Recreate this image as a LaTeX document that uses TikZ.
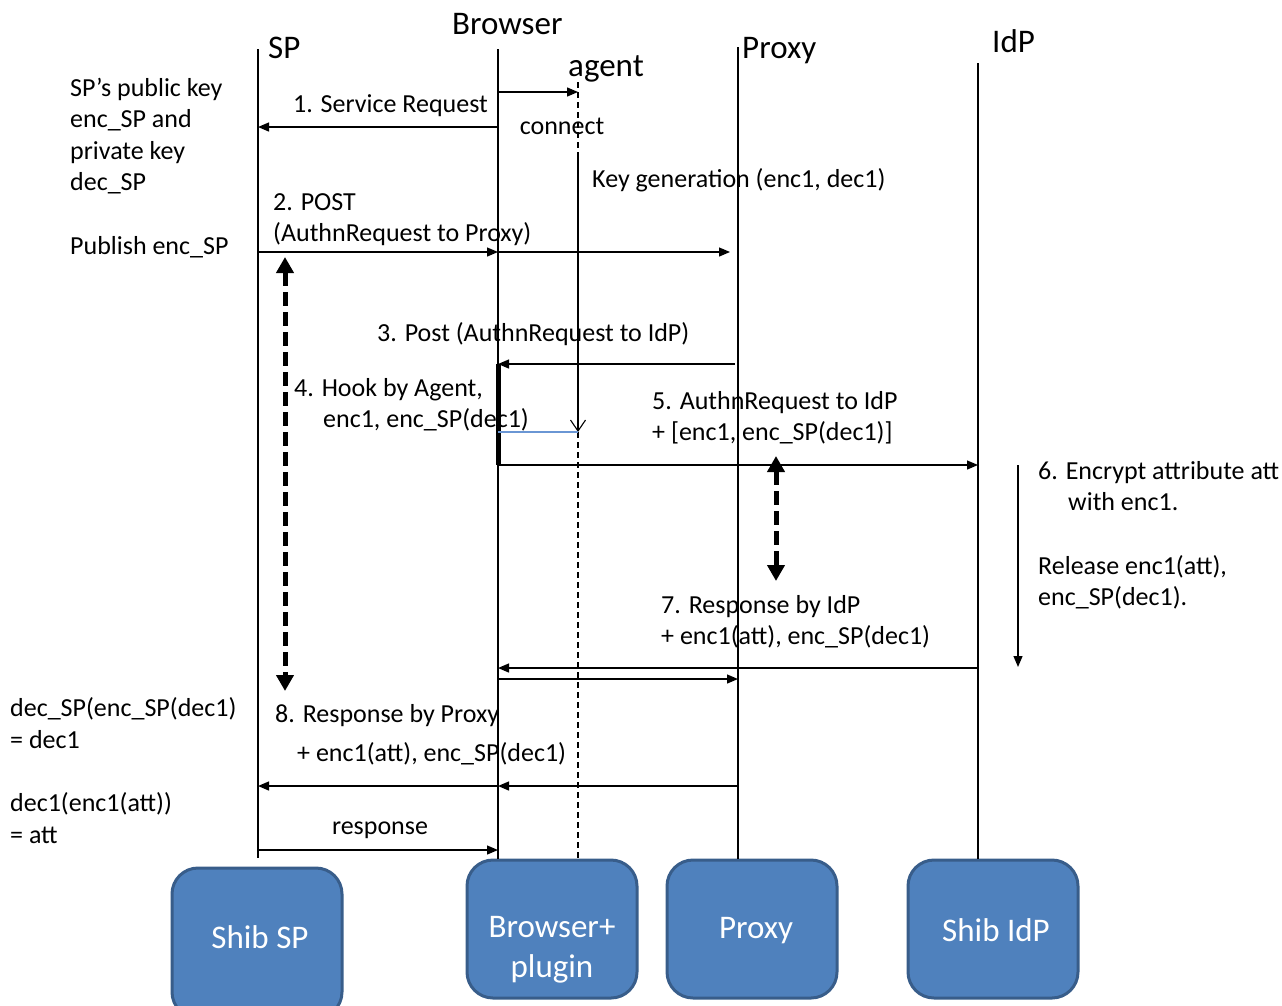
\documentclass[tikz,border=0pt]{standalone}
\usepackage{fontspec}
\setmainfont{Carlito}
\usetikzlibrary{arrows.meta,calc}
\definecolor{boxfill}{HTML}{4F81BD}
\definecolor{boxline}{HTML}{385D8A}
\definecolor{hookblue}{HTML}{6A96D4}
\tikzset{
  txt/.style={inner sep=0pt,font=\fontsize{26}{31.7}\selectfont},
  hdr/.style={inner sep=0pt,font=\fontsize{33}{40}\selectfont},
  life/.style={line width=1.3pt},
  agentline/.style={line width=1.1pt,dash pattern=on 6pt off 4pt},
  msg/.style={line width=1.3pt,-{Triangle[length=11pt,width=9pt]}},
  bigdash/.style={line width=5pt,dash pattern=on 14pt off 6pt,
    {Triangle[length=16pt,width=17pt]}-{Triangle[length=16pt,width=17pt]}},
  actor/.style={draw=boxline,fill=boxfill,line width=3pt,rounded corners=26pt,
    minimum width=170pt,minimum height=138pt},
  actortext/.style={inner sep=0pt,text=white,align=center,
    font=\fontsize{33}{40}\selectfont}
}
\begin{document}
\begin{tikzpicture}[x=1pt,y=-1pt]
\useasboundingbox (0,0) rectangle (1282,1005);
% lifeline x positions
\coordinate (SP) at (258,0);
\coordinate (BR) at (498,0);
\coordinate (AG) at (578,0);
\coordinate (PX) at (738,0);
\coordinate (ID) at (978,0);
\coordinate (EN) at (1018,0);
% actor boxes
\node[actor,minimum height=150pt] (bsp) at (257,943) {};
\node[actor] (bbr) at (552,929) {};
\node[actor] (bpx) at (752,929) {};
\node[actor] (bid) at (993,929) {};
\node[actortext] (tsp) at (260,937) {Shib SP};
\node[actortext] (tbr) at (552,950) {Browser+\\plugin};
\node[actortext] (tpx) at (756,931) {Proxy};
\node[actortext] (tid) at (996,930) {Shib IdP};
% lifeline ends
\coordinate (SPt) at (258,49);  \coordinate (SPb) at (258,858);
\coordinate (BRt) at (498,49);
\coordinate (PXt) at (738,47);
\coordinate (IDt) at (978,63);
\coordinate (AGt) at (578,82);  \coordinate (AGb) at (578,860);
\draw[life] (SPt) -- (SPb);
\draw[life] (BRt) -- (BRt|-bbr.north);
\draw[life] (PXt) -- (PXt|-bpx.north);
\draw[life] (IDt) -- (IDt|-bid.north);
% headers
\node[hdr,anchor=base west] (hsp) at (268,58) {SP};
\node[hdr,anchor=base west] (hbr) at (452,34) {Browser};
\node[hdr,anchor=base west] (hag) at (568,76) {agent};
\node[hdr,anchor=base west] (hpx) at (742,58) {Proxy};
\node[hdr,anchor=base west] (hid) at (992,52) {IdP};
% rows
\coordinate (r1) at (0,92);
\coordinate (r2) at (0,127);
\coordinate (rk1) at (0,152);
\coordinate (rk2) at (0,432);
\coordinate (r3) at (0,252);
\coordinate (r4) at (0,364);
\coordinate (r5) at (0,465);
\coordinate (r6) at (0,667);
\coordinate (r7) at (0,668);
\coordinate (r7b) at (0,679);
\coordinate (r8) at (0,786);
\coordinate (r9) at (0,850);
% agent line
\draw[agentline] (AGt) -- (AG|-rk1);
\draw[line width=1.1pt,-{Straight Barb[length=11pt,width=15pt]}] (AG|-rk1) -- (AG|-rk2);
\draw[agentline] (AG|-rk2) -- (AGb);
% 1
\draw[msg] (BR|-r1) -- (AG|-r1);
\draw[msg] (BR|-r2) -- (SP|-r2);
% 2
\coordinate (PXa) at (730,0);
\draw[msg] (SP|-r3) -- (BR|-r3);
\draw[msg] (BR|-r3) -- (PXa|-r3);
\coordinate (d1t) at (285,257);
\coordinate (d1b) at (285,691);
\draw[bigdash] (d1t) -- (d1b);
% 3
\coordinate (PXb) at (735,0);
\draw[msg] (PXb|-r4) -- (BR|-r4);
\draw[line width=5pt] (BR|-r4) -- (BR|-r5);
% 4 hook
\draw[hookblue,line width=1.3pt] (BR|-rk2) -- (AG|-rk2);
% 5
\draw[msg] (BR|-r5) -- (ID|-r5);
\coordinate (d2t) at (776,456);
\coordinate (d2b) at (776,581);
\draw[bigdash] (d2t) -- (d2b);
% 6
\draw[msg] (EN|-r5) -- (EN|-r6);
% 7
\draw[msg] (ID|-r7) -- (BR|-r7);
\draw[msg] (BR|-r7b) -- (PX|-r7b);
% 8
\draw[msg] (PX|-r8) -- (BR|-r8);
\draw[msg] (BR|-r8) -- (SP|-r8);
% response
\draw[msg] (SP|-r9) -- (BR|-r9);
% texts
\node[txt,anchor=base west] (t1) at (70,96) {SP’s public key};
\node[txt,anchor=base west] (t2) at (70,127) {enc\_SP and};
\node[txt,anchor=base west] (t3) at (70,159) {private key};
\node[txt,anchor=base west] (t4) at (70,190) {dec\_SP};
\node[txt,anchor=base west] (t5) at (70,254) {Publish enc\_SP};
\node[txt,anchor=base east] (l1) at (488,112) {1. Service Request};
\node[txt,anchor=base] (lc) at (562,134) {connect};
\node[txt,anchor=base west] (lk) at (592,187) {Key generation (enc1, dec1)};
\node[txt,anchor=base west] (l2a) at (273,210) {2. POST};
\node[txt,anchor=base west] (l2b) at (273,241) {(AuthnRequest to Proxy)};
\node[txt,anchor=base west] (l3) at (377,341) {3. Post (AuthnRequest to IdP)};
\node[txt,anchor=base west] (l4a) at (294,396) {4. Hook by Agent,};
\node[txt,anchor=base west] (l4b) at (323,427) {enc1, enc\_SP(dec1)};
\node[txt,anchor=base west] (l5a) at (652,409) {5. AuthnRequest to IdP};
\node[txt,anchor=base west] (l5b) at (652,440) {+ [enc1, enc\_SP(dec1)]};
\node[txt,anchor=base west] (l6a) at (1038,479) {6. Encrypt attribute att};
\node[txt,anchor=base west] (l6b) at (1068,510) {with enc1.};
\node[txt,anchor=base west] (l6c) at (1038,574) {Release enc1(att),};
\node[txt,anchor=base west] (l6d) at (1038,605) {enc\_SP(dec1).};
\node[txt,anchor=base west] (l7a) at (661,613) {7. Response by IdP};
\node[txt,anchor=base west] (l7b) at (661,644) {+ enc1(att), enc\_SP(dec1)};
\node[txt,anchor=base west] (l8a) at (275,722) {8. Response by Proxy};
\node[txt,anchor=base west] (l8b) at (297,761) {+ enc1(att), enc\_SP(dec1)};
\node[txt,anchor=base west] (u1) at (10,716) {dec\_SP(enc\_SP(dec1)};
\node[txt,anchor=base west] (u2) at (10,748) {= dec1};
\node[txt,anchor=base west] (u3) at (10,811) {dec1(enc1(att))};
\node[txt,anchor=base west] (u4) at (10,843) {= att};
\node[txt,anchor=base] (lr) at (380,834) {response};
\end{tikzpicture}
\end{document}
